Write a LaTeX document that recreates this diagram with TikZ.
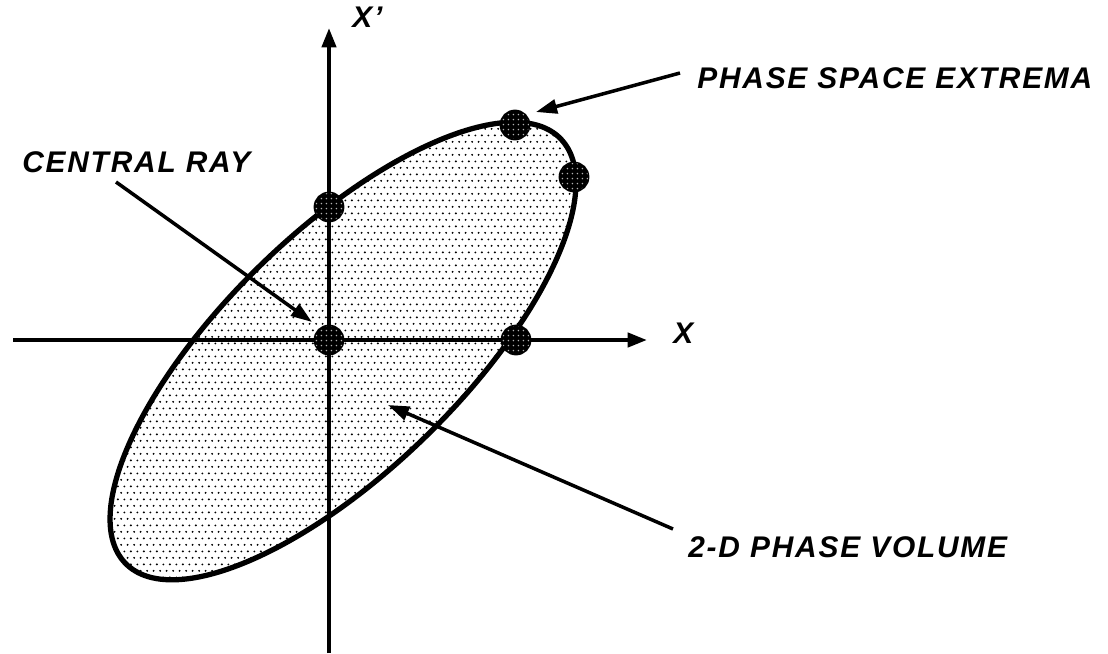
\documentclass[tikz,border=0pt]{standalone}
\usepackage{fontspec}
\newfontfamily\labfont[LetterSpace=6]{Liberation Sans}
\usetikzlibrary{patterns.meta,arrows.meta}
\pgfdeclarepattern{name=finedots, type=uncolored,
  bottom left={\pgfpoint{0pt}{0pt}}, top right={\pgfpoint{7.6pt}{7.6pt}},
  tile size={\pgfpoint{7.6pt}{7.6pt}},
  code={\pgfpathcircle{\pgfpoint{1.9pt}{1.9pt}}{0.6pt}\pgfpathcircle{\pgfpoint{5.7pt}{1.9pt}}{0.6pt}%
        \pgfpathcircle{\pgfpoint{0pt}{5.7pt}}{0.6pt}\pgfpathcircle{\pgfpoint{3.8pt}{5.7pt}}{0.6pt}\pgfpathcircle{\pgfpoint{7.6pt}{5.7pt}}{0.6pt}\pgfusepath{fill}}}
\pgfdeclarepattern{name=speck, type=uncolored,
  bottom left={\pgfpoint{0pt}{0pt}}, top right={\pgfpoint{2.8pt}{2.8pt}},
  tile size={\pgfpoint{2.8pt}{2.8pt}},
  code={\pgfpathcircle{\pgfpoint{1.4pt}{1.4pt}}{0.45pt}\pgfusepath{fill}}}
\begin{document}
\begin{tikzpicture}[x=0.02cm, y=-0.02cm,
  axisline/.style={line width=2.3pt, -{Triangle[length=11pt,width=8pt]}},
  rim/.style={line width=3pt},
  pointer/.style={line width=2pt, -{Triangle[length=12pt,width=8pt]}},
  extdot/.style={circle, draw=black, line width=1.6pt, fill=black, minimum size=0.56cm, inner sep=0pt,
    postaction={pattern=speck, pattern color=white!70!black}},
  lab/.style={anchor=base west, inner sep=0pt, font=\labfont\bfseries\itshape\fontsize{17}{19}\selectfont}]
\useasboundingbox (0,0) rectangle (1108,653);
% phase volume
\fill[pattern=finedots, pattern color=black, shift={(343,351)}, rotate=44.3] (0,0) ellipse [x radius=304, y radius=119];
% axes
\coordinate (xl) at (13,340);
\coordinate (xr) at (647,340);
\coordinate (yb) at (329,653);
\coordinate (yt) at (329,28);
\draw[axisline] (xl) -- (xr);
\draw[axisline] (yb) -- (yt);
% ellipse rim
\draw[rim, shift={(343,351)}, rotate=44.3] (0,0) ellipse [x radius=304, y radius=119];
% points
\node[extdot] (top) at (515,125) {};
\node[extdot] (right) at (574,177) {};
\node[extdot] (yint) at (329,207) {};
\node[extdot] (origin) at (329,340) {};
\node[extdot] (xint) at (516,340) {};
% labels
\node[lab] (lx) at (673,343) {X};
\node[lab] (lxp) at (352,27) {X’};
\node[lab] (lext) at (697,88) {PHASE SPACE EXTREMA};
\node[lab] (lcr) at (22,172) {CENTRAL RAY};
\node[lab] (lvol) at (688,557) {2-D PHASE VOLUME};
% pointers
\coordinate (t1) at (680,73);
\coordinate (h1) at (536,112);
\coordinate (t2) at (116,182);
\coordinate (h2) at (312,322);
\coordinate (t3) at (673,529);
\coordinate (h3) at (388,405);
\draw[pointer] (t1) -- (h1);
\draw[pointer] (t2) -- (h2);
\draw[pointer] (t3) -- (h3);
\end{tikzpicture}
\end{document}
